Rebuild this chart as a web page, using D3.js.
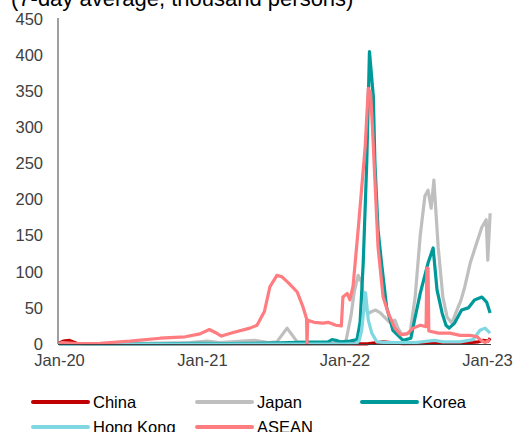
<!DOCTYPE html>
<html>
<head>
<meta charset="utf-8">
<script src="https://cdn.jsdelivr.net/npm/d3@7"></script>
<style>
  body { margin: 0; background: #fff; }
  svg { display: block; font-family: "Liberation Sans", Arial, sans-serif; }
</style>
</head>
<body>
<div id="vis-container"></div>
<script>
// values, thousand persons (7-day average)
const china = [
  ["2020-01-01", 1], ["2020-01-12", 4], ["2020-01-28", 5], ["2020-02-15", 1], ["2020-03-10", 0],
  ["2022-03-01", 0.3], ["2022-03-20", 1.5], ["2022-04-10", 3], ["2022-05-01", 2], ["2022-05-30", 0.5],
  ["2022-08-15", 1], ["2022-10-01", 1], ["2022-11-15", 2], ["2022-12-10", 3], ["2022-12-22", 5],
  ["2023-01-04", 4], ["2023-01-09", 8]
];
const japan = [
  ["2020-01-01", 0], ["2020-04-15", 0.5], ["2020-08-01", 1], ["2020-12-01", 2], ["2021-01-15", 4],
  ["2021-02-15", 2], ["2021-05-15", 5], ["2021-06-20", 2], ["2021-07-12", 3], ["2021-08-07", 22],
  ["2021-09-02", 3], ["2021-10-15", 0.5], ["2021-12-15", 0.3], ["2022-01-04", 2], ["2022-01-18", 40],
  ["2022-01-26", 72], ["2022-02-05", 95], ["2022-02-14", 85], ["2022-02-22", 55], ["2022-03-02", 42],
  ["2022-03-12", 45], ["2022-03-22", 47], ["2022-04-03", 43], ["2022-04-14", 37], ["2022-04-27", 30],
  ["2022-05-10", 33], ["2022-05-18", 22], ["2022-05-28", 13], ["2022-06-18", 15], ["2022-07-01", 65],
  ["2022-07-14", 150], ["2022-07-26", 205], ["2022-08-03", 213], ["2022-08-11", 188], ["2022-08-18", 227],
  ["2022-08-29", 134], ["2022-09-10", 65], ["2022-09-21", 37], ["2022-10-03", 29], ["2022-10-16", 47],
  ["2022-10-26", 60], ["2022-11-05", 79], ["2022-11-19", 112], ["2022-12-02", 134], ["2022-12-19", 162],
  ["2022-12-30", 172], ["2023-01-03", 116], ["2023-01-09", 181]
];
const korea = [
  ["2020-01-01", 0], ["2020-02-25", 0.5], ["2020-03-10", 0.3], ["2020-09-01", 0.3], ["2020-12-25", 1],
  ["2021-03-01", 0.5], ["2021-07-20", 1.5], ["2021-10-01", 2.5], ["2021-11-20", 3], ["2021-11-30", 6],
  ["2021-12-10", 5], ["2021-12-21", 3], ["2022-01-15", 4], ["2022-02-02", 6], ["2022-02-10", 30],
  ["2022-02-18", 112], ["2022-02-27", 250], ["2022-03-06", 405], ["2022-03-16", 342], ["2022-03-20", 250],
  ["2022-03-28", 158], ["2022-04-06", 112], ["2022-04-19", 51], ["2022-05-05", 19], ["2022-05-31", 5],
  ["2022-06-20", 8], ["2022-07-01", 37], ["2022-07-14", 70], ["2022-08-03", 112], ["2022-08-16", 133],
  ["2022-08-26", 75], ["2022-09-08", 43], ["2022-09-18", 26], ["2022-09-26", 22], ["2022-10-10", 29],
  ["2022-10-28", 47], ["2022-11-14", 50], ["2022-11-30", 61], ["2022-12-19", 65], ["2022-12-31", 58],
  ["2023-01-09", 43]
];
const hongKong = [
  ["2020-01-01", 0], ["2021-12-31", 0], ["2022-01-31", 0.5], ["2022-02-08", 5], ["2022-02-14", 19],
  ["2022-02-24", 71], ["2022-03-03", 33], ["2022-03-12", 15], ["2022-03-25", 3], ["2022-04-20", 2],
  ["2022-07-01", 2], ["2022-08-20", 5], ["2022-09-10", 3], ["2022-10-24", 3], ["2022-11-26", 6],
  ["2022-12-14", 19], ["2022-12-27", 22], ["2023-01-09", 15]
];
const asean = [
  ["2020-01-01", 1], ["2020-01-10", 2], ["2020-02-15", 0.5], ["2020-04-15", 1], ["2020-07-01", 4],
  ["2020-09-16", 8], ["2020-11-19", 10], ["2020-12-27", 14], ["2021-01-20", 20], ["2021-02-04", 16],
  ["2021-02-20", 11], ["2021-03-22", 16], ["2021-05-04", 22], ["2021-05-22", 26], ["2021-06-10", 45],
  ["2021-06-24", 79], ["2021-07-12", 95], ["2021-07-25", 93], ["2021-08-10", 85], ["2021-09-02", 72],
  ["2021-09-17", 51], ["2021-09-26", 35], ["2021-09-27", 0], ["2021-09-29", 33], ["2021-10-15", 30],
  ["2021-11-07", 29], ["2021-11-20", 30], ["2021-12-10", 26], ["2021-12-24", 25], ["2021-12-28", 65],
  ["2022-01-08", 70], ["2022-01-15", 61], ["2022-01-23", 80], ["2022-02-05", 158], ["2022-02-23", 273],
  ["2022-03-03", 354], ["2022-03-09", 347], ["2022-03-14", 296], ["2022-03-20", 227], ["2022-03-28", 134],
  ["2022-04-10", 65], ["2022-04-23", 43], ["2022-05-10", 22], ["2022-05-25", 13], ["2022-06-10", 14],
  ["2022-06-26", 22], ["2022-07-14", 26], ["2022-07-29", 24], ["2022-07-31", 105], ["2022-08-03", 105],
  ["2022-08-05", 18], ["2022-08-30", 15], ["2022-09-28", 15], ["2022-10-24", 12], ["2022-11-19", 12],
  ["2022-12-07", 10], ["2022-12-14", 6], ["2022-12-27", 2], ["2023-01-09", 6]
];

const seriesNames = ["China", "Japan", "Korea", "Hong Kong", "ASEAN"];
const seriesColors = ["#c00000", "#bfbfbf", "#00999a", "#7fd7e2", "#ff7c80"];
const yTicks = [0, 50, 100, 150, 200, 250, 300, 350, 400, 450];
const xTicks = ["2020-01-01", "2021-01-01", "2022-01-01", "2023-01-01"];

const allSeries = [china, japan, korea, hongKong, asean];
const parse = d3.timeParse("%Y-%m-%d");

const width = 514, height = 432;
const svg = d3.select("#vis-container")
  .append("svg")
    .attr("width", width)
    .attr("height", height);

const x = d3.scaleTime()
  .domain([parse("2020-01-01"), parse("2023-01-01")])
  .range([59, 487]);

const y = d3.scaleLinear()
  .domain([0, 450])
  .range([344, 19]);

// Title (clipped at top like the source)
svg.append("text")
  .attr("x", 11)
  .attr("y", 6)
  .style("font-size", "22px")
  .attr("fill", "#000")
  .text("(7-day average, thousand persons)");

// Y axis
const yAxis = svg.append("g")
  .attr("transform", "translate(58,0)")
  .call(d3.axisLeft(y).tickValues(yTicks).tickSize(0).tickPadding(15));
yAxis.select(".domain").attr("stroke", "#404040").attr("d", `M0,${y(450) - 1}V${y(0)}`);
yAxis.selectAll("text").style("font-size", "16.5px").attr("fill", "#404040");

// Lines
const line = d3.line()
  .x(d => x(parse(d[0])))
  .y(d => y(d[1]));

allSeries.forEach((s, i) => {
  svg.append("path")
    .datum(s)
    .attr("fill", "none")
    .attr("stroke", seriesColors[i])
    .attr("stroke-width", 3.2)
    .attr("stroke-linejoin", "round")
    .attr("d", line);
});

// X axis
const xAxis = svg.append("g")
  .attr("transform", `translate(0,${y(0) + 0.5})`)
  .call(d3.axisBottom(x)
    .tickValues(xTicks.map(parse))
    .tickFormat(d3.timeFormat("%b-%y"))
    .tickSize(0)
    .tickPadding(10));
xAxis.select(".domain").attr("stroke", "#404040").attr("d", "M58,0H491");
xAxis.selectAll("text").style("font-size", "16.5px").attr("fill", "#404040");

// Legend
const legendPos = [[33, 402], [197, 402], [362, 402], [33, 427], [197, 427]];
const legend = svg.append("g");
seriesNames.forEach((name, i) => {
  const [lx, ly] = legendPos[i];
  legend.append("line")
    .attr("x1", lx).attr("x2", lx + 55)
    .attr("y1", ly).attr("y2", ly)
    .attr("stroke", seriesColors[i])
    .attr("stroke-width", 4)
    .attr("stroke-linecap", "round");
  legend.append("text")
    .attr("x", lx + 60)
    .attr("y", ly + 6)
    .style("font-size", "16.5px")
    .attr("fill", "#000")
    .text(name);
});
</script>
</body>
</html>
